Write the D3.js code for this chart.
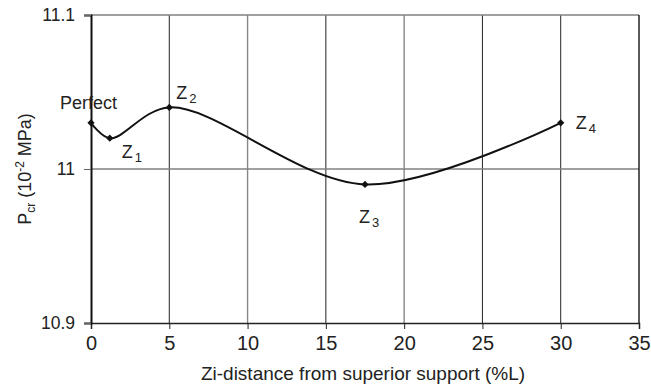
<!DOCTYPE html>
<html>
<head>
<meta charset="utf-8">
<script src="https://cdn.jsdelivr.net/npm/d3@7"></script>
<style>
  body { margin: 0; background: #fff; }
  text { font-family: "Liberation Sans", Arial, sans-serif; fill: #222; }
</style>
</head>
<body>
<svg id="chart" width="651" height="389"></svg>
<script>
// Critical pressure against imperfection position
const positions = [0, 1.2, 5, 17.5, 30];
const pressures = [11.03, 11.02, 11.04, 10.99, 11.03];
const pointNames = ["Perfect", "Z1", "Z2", "Z3", "Z4"];
const xTicks = [0, 5, 10, 15, 20, 25, 30, 35];
const yTicks = [10.9, 11, 11.1];

const svg = d3.select("#chart");
const plotLeft = 91, plotRight = 639, plotTop = 15, plotBottom = 323;

const x = d3.scaleLinear().domain([0, 35]).range([plotLeft, plotRight]);
const y = d3.scaleLinear().domain([10.9, 11.1]).range([plotBottom, plotTop]);

// vertical grid lines (10 and 20 drawn lighter)
svg.append("g").selectAll("line").data(xTicks.slice(1, -1)).join("line")
  .attr("x1", d => x(d)).attr("x2", d => x(d))
  .attr("y1", plotTop).attr("y2", plotBottom)
  .attr("stroke", d => (d === 10 || d === 20) ? "#888" : "#222")
  .attr("stroke-width", d => (d === 10 || d === 20) ? 1.4 : 1);

// horizontal grid lines
svg.append("g").selectAll("line").data(yTicks.slice(1)).join("line")
  .attr("x1", plotLeft).attr("x2", plotRight)
  .attr("y1", d => y(d)).attr("y2", d => y(d))
  .attr("stroke", "#808080").attr("stroke-width", 1.5);

// right frame edge
svg.append("line").attr("x1", plotRight).attr("x2", plotRight).attr("y1", plotTop).attr("y2", plotBottom)
  .attr("stroke", "#222").attr("stroke-width", 1.5);

// axes
const xAxis = d3.axisBottom(x).tickValues(xTicks).tickFormat(d3.format("d")).tickSize(6).tickPadding(7);
const gx = svg.append("g").attr("transform", `translate(0,${plotBottom})`).call(xAxis);
gx.select(".domain").attr("stroke", "#222").attr("stroke-width", 1.5);
gx.selectAll(".tick line").attr("stroke", "#222");
gx.selectAll("text").style("font-size", "20px").attr("fill", "#222");

const yAxis = d3.axisLeft(y).tickValues(yTicks).tickFormat(d => d === 11 ? "11" : d3.format(".1f")(d)).tickSize(7).tickPadding(9);
const gy = svg.append("g").attr("transform", `translate(${plotLeft},0)`).call(yAxis);
gy.select(".domain").attr("stroke", "#111").attr("stroke-width", 2);
gy.selectAll(".tick line").attr("stroke", "#666");
gy.selectAll("text").style("font-size", "17.5px").attr("fill", "#222");

// axis titles
svg.append("text").attr("x", 363).attr("y", 380)
  .attr("text-anchor", "middle").style("font-size", "19px")
  .text("Zi-distance from superior support (%L)");

const yt = svg.append("text")
  .attr("transform", `translate(31,${(plotTop + plotBottom) / 2}) rotate(-90)`)
  .attr("text-anchor", "middle").style("font-size", "18px");
yt.append("tspan").text("P");
yt.append("tspan").attr("dy", 4).style("font-size", "12px").text("cr");
yt.append("tspan").attr("dy", -4).text(" (10");
yt.append("tspan").attr("dy", -7).style("font-size", "12px").text("-2");
yt.append("tspan").attr("dy", 7).text(" MPa)");

// smoothed curve
const pts = positions.map((p, i) => [p, pressures[i]]);
const line = d3.line().x(d => x(d[0])).y(d => y(d[1])).curve(d3.curveCatmullRom.alpha(0.5));
svg.append("path").datum(pts).attr("d", line)
  .attr("fill", "none").attr("stroke", "#111").attr("stroke-width", 2);

// diamond markers
svg.append("g").selectAll("path").data(pts).join("path")
  .attr("transform", d => `translate(${x(d[0])},${y(d[1])}) rotate(45)`)
  .attr("d", d3.symbol(d3.symbolSquare, 26))
  .attr("fill", "#111");

// point labels
const labelOffsets = [[-31, -14], [12, 20], [7, -8], [-6, 39], [15, 6]];
const lab = svg.append("g").selectAll("text").data(pts).join("text")
  .attr("x", (d, i) => x(d[0]) + labelOffsets[i][0])
  .attr("y", (d, i) => y(d[1]) + labelOffsets[i][1])
  .style("font-size", "18px");
lab.each(function (d, i) {
  const t = d3.select(this);
  const name = pointNames[i];
  if (name.startsWith("Z")) {
    t.append("tspan").text("Z");
    t.append("tspan").attr("dy", 4).attr("dx", 2).style("font-size", "13px").text(name.slice(1));
  } else {
    t.text(name);
  }
});
</script>
</body>
</html>
